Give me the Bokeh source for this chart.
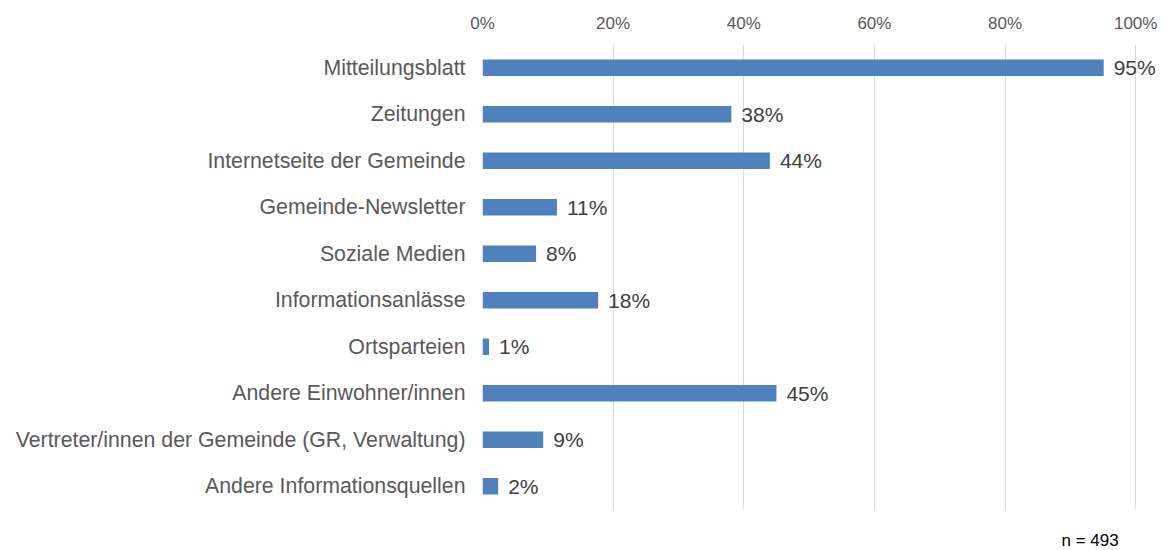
from bokeh.plotting import figure
from bokeh.models import ColumnDataSource, FactorRange, Range1d, FixedTicker, NumeralTickFormatter, Title
from bokeh.core.properties import value
from bokeh.embed import file_html
from bokeh.resources import INLINE

categories = [
    "Mitteilungsblatt",
    "Zeitungen",
    "Internetseite der Gemeinde",
    "Gemeinde-Newsletter",
    "Soziale Medien",
    "Informationsanlässe",
    "Ortsparteien",
    "Andere Einwohner/innen",
    "Vertreter/innen der Gemeinde (GR, Verwaltung)",
    "Andere Informationsquellen",
]
shares = [95.1, 38.1, 44.0, 11.4, 8.2, 17.7, 1.0, 45.0, 9.3, 2.4]
tick_values = [0, 20, 40, 60, 80, 100]
sample_note = "n = 493"

FONT = "Liberation Sans"

src = ColumnDataSource(dict(
    cat=categories,
    frac=[v / 100 for v in shares],
    lab=[f"{round(v)}%" for v in shares],
))

p = figure(
    width=1164, height=550,
    y_range=FactorRange(factors=list(reversed(categories))),
    x_range=Range1d(0, 1.038),
    x_axis_location="above",
    output_backend="svg", toolbar_location=None,
    min_border_left=482, min_border_right=4,
    min_border_top=44, min_border_bottom=41,
)
p.outline_line_color = None
p.background_fill_color = "white"
p.border_fill_color = "white"

p.hbar(y="cat", right="frac", left=0, height=0.36, source=src,
       fill_color="#4F81BD", line_color=None)

p.text(x="frac", y="cat", text="lab", source=src, x_offset=10,
       text_baseline="middle", text_align="left",
       text_font=value(FONT), text_font_size="21px", text_color="#404040")

xa = p.xaxis[0]
xa.ticker = FixedTicker(ticks=[t / 100 for t in tick_values])
xa.formatter = NumeralTickFormatter(format="0%")
xa.axis_line_color = None
xa.major_tick_line_color = None
xa.minor_tick_line_color = None
xa.major_tick_out = 0
xa.major_label_standoff = 12
xa.major_label_text_font = FONT
xa.major_label_text_font_size = "17px"
xa.major_label_text_color = "#595959"

ya = p.yaxis[0]
ya.axis_line_color = None
ya.major_tick_line_color = None
ya.minor_tick_line_color = None
ya.major_tick_out = 0
ya.major_label_standoff = 17
ya.major_label_text_font = FONT
ya.major_label_text_font_size = "21.3px"
ya.major_label_text_color = "#595959"

p.xgrid.grid_line_color = "#D9D9D9"
p.xgrid.grid_line_width = 1
p.ygrid.grid_line_color = None

spacer = Title(text=" ", standoff=0, text_font=FONT, text_font_size="15px",
               text_color="white")
p.add_layout(spacer, "below")
note = Title(text=sample_note, align="left", offset=579, standoff=0,
             vertical_align="bottom",
             text_font=FONT, text_font_size="17px", text_font_style="normal",
             text_color="#000000")
p.add_layout(note, "below")

open("out.html", "w").write(file_html(p, INLINE))
